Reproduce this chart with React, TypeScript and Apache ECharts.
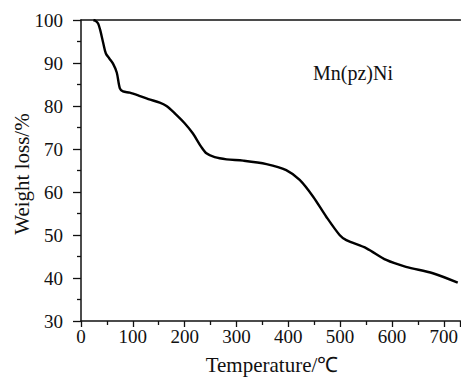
import React, { useEffect, useRef } from "react";
import * as echarts from "echarts";

const temperature = [24, 28, 33, 37, 43, 48, 55, 62, 69, 75, 81, 94, 114, 130, 152, 165, 181, 200, 216, 232, 242, 258, 281, 313, 358, 396, 422, 448, 473, 499, 512, 551, 589, 627, 679, 727];
const weight = [100, 99.8, 99.2, 97.7, 94.6, 92.2, 91.0, 89.8, 87.8, 84.1, 83.4, 83.1, 82.3, 81.6, 80.8, 80.0, 78.3, 76.0, 73.6, 70.5, 69.0, 68.1, 67.6, 67.3, 66.5, 65.1, 62.8, 58.9, 54.3, 50.0, 48.8, 46.9, 44.2, 42.6, 41.1, 38.9];
const sampleLabel = "Mn(pz)Ni";
const xTitle = "Temperature/℃";
const yTitle = "Weight loss/%";

export default function App() {
  const ref = useRef<HTMLDivElement>(null);
  useEffect(() => {
    if (!ref.current) return;
    const chart = echarts.init(ref.current, null, { renderer: "svg" });
    const font = "Liberation Serif";
    const axisColor = "#111";
    chart.setOption({
      animation: false,
      backgroundColor: "#fff",
      grid: { left: 81, top: 20, right: 0, bottom: 56, containLabel: false },
      xAxis: [
        {
          type: "value",
          min: 0,
          max: 732,
          interval: 100,
          position: "bottom",
          axisLine: { show: true, onZero: false, lineStyle: { color: axisColor, width: 1.5 } },
          axisTick: { show: true, inside: false, length: 6, lineStyle: { color: axisColor, width: 1.3 } },
          minorTick: { show: true, splitNumber: 2, length: 4, lineStyle: { color: axisColor, width: 1.3 } },
          axisLabel: { fontFamily: font, fontSize: 19, color: "#111", margin: 6, showMaxLabel: false },
          splitLine: { show: false },
        },
        {
          type: "value",
          min: 0,
          max: 732,
          position: "top",
          axisLine: { show: true, onZero: false, lineStyle: { color: axisColor, width: 1.5 } },
          axisTick: { show: false },
          axisLabel: { show: false },
          splitLine: { show: false },
        },
      ],
      yAxis: {
        type: "value",
        min: 30,
        max: 100,
        interval: 10,
        axisLine: { show: true, onZero: false, lineStyle: { color: axisColor, width: 1.5 } },
        axisTick: { show: true, inside: false, length: 8, lineStyle: { color: axisColor, width: 1.3 } },
        minorTick: { show: true, splitNumber: 2, length: 4, lineStyle: { color: axisColor, width: 1.3 } },
        axisLabel: { fontFamily: font, fontSize: 19, color: "#111", margin: 18 },
        splitLine: { show: false },
      },
      graphic: [
        {
          type: "text",
          x: 313,
          y: 73,
          style: { text: sampleLabel, fontFamily: font, fontSize: 20, fill: "#111", textAlign: "left", textVerticalAlign: "middle" },
        },
        {
          type: "text",
          x: 272,
          y: 365,
          style: { text: xTitle, fontFamily: font, fontSize: 21, fill: "#111", textAlign: "center", textVerticalAlign: "middle" },
        },
        {
          type: "text",
          x: 22,
          y: 174,
          rotation: Math.PI / 2,
          style: { text: yTitle, fontFamily: font, fontSize: 21, fill: "#111", textAlign: "center", textVerticalAlign: "middle" },
        },
      ],
      series: [
        {
          type: "line",
          data: temperature.map((t, i) => [t, weight[i]]),
          smooth: 0.3,
          showSymbol: false,
          lineStyle: { color: "#000", width: 2.4 },
        },
      ],
    });
    return () => chart.dispose();
  }, []);
  return <div ref={ref} style={{ width: 461, height: 377, position: "absolute", left: 0, top: 0 }} />;
}
